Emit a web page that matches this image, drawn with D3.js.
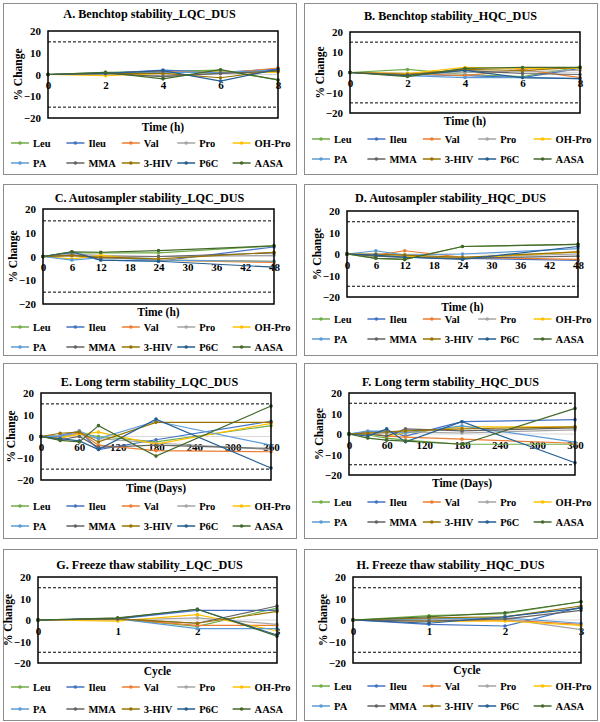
<!DOCTYPE html>
<html>
<head>
<meta charset="utf-8">
<script src="https://cdn.jsdelivr.net/npm/d3@7"></script>
<style>
body { margin: 0; background: #fff; }
svg { display: block; font-family: "Liberation Serif", "Times New Roman", serif; font-weight: bold; }
</style>
</head>
<body>
<div id="chart-area"></div>
<script>
// series and axes
var seriesNames = ["Leu", "Ileu", "Val", "Pro", "OH-Pro", "PA", "MMA", "3-HIV", "P6C", "AASA"];
var seriesColors = ["#70AD47", "#4472C4", "#ED7D31", "#A5A5A5", "#FFC000", "#5B9BD5", "#636363", "#997300", "#255E91", "#43682B"];

var benchTimes = [0, 2, 4, 6, 8];
var autoTimes = [0, 6, 12, 24, 48];
var longTimes = [0, 30, 60, 90, 180, 360];
var ftCycles = [0, 1, 2, 3];

var benchTicks = [0, 2, 4, 6, 8];
var autoTicks = [0, 6, 12, 18, 24, 30, 36, 42, 48];
var longTicks = [0, 60, 120, 180, 240, 300, 360];
var ftTicks = [0, 1, 2, 3];
var yTicks = [-20, -10, 0, 10, 20];
var limitLines = [15, -15];

// % change, one row per series (Leu ... AASA)
var benchLQC = [
    [0, 1, 1.5, 2, -2.5],
    [0, 0.5, 2, 1, 2.5],
    [0, 0.5, 1.5, 0.5, 3],
    [0, 0.3, -0.5, 0.5, 1.5],
    [0, -0.5, 0.5, 1.5, 1],
    [0, 0.8, 1, 1, 2],
    [0, 0.5, -1, 0.5, 1.5],
    [0, 0.5, 0.5, -1.5, 2],
    [0, 0.5, 1.8, -3, 2.5],
    [0, 1, -2, 2.2, -2.5]
];
var benchHQC = [
    [0, 1.5, -1, -2, 2.7],
    [0, -1, -1.5, -2.5, 2],
    [0, -0.5, -1.5, 1.5, -2.5],
    [0, -1, 0, 0.5, 1],
    [0, -0.5, 2.5, 2, 2],
    [0, -1.5, -2.5, -2.5, -3],
    [0, -1, 1, -0.5, -1],
    [0, -1, 1.5, 1, 2.5],
    [0, -1.5, 1, -2.5, -3],
    [0, -2, 2, 2.5, 2.5]
];
var autoLQC = [
    [0, 1.5, 1.5, 1.5, 4.5],
    [0, 1.5, -1.5, -2, 4],
    [0, 0.5, 0, -1.5, -2.5],
    [0, 1, 0.5, 0, 0.5],
    [0, -1, 0.5, -1.5, -2],
    [0, -1.5, -0.5, -1.5, -2],
    [0, 0.5, -0.5, 0, 1.5],
    [0, 0.5, -0.5, -1, 1.8],
    [0, 2, -1.5, -2, -4.5],
    [0, 2, 1.8, 2.5, 4.5]
];
var autoHQC = [
    [0, -2, -2.5, 3.5, 4.5],
    [0, -1, -1.5, -2, -3],
    [0, -0.5, 1.5, -1.5, -2.5],
    [0, -0.5, -1, -1.5, 0],
    [0, -1, -1, -2, 1],
    [0, 1.5, -0.5, 0, 2.5],
    [0, -1, -1.5, -2, -1],
    [0, 0, -0.5, -1.5, 1],
    [0, -0.5, -1.5, -2.5, 3.5],
    [0, -2, -2.5, 3.5, 4.5]
];
var longLQC = [
    [0, -0.5, 1.5, 0, -2.5, 5],
    [0, 0.5, 2.5, -6, -1.5, 7],
    [0, -1, 2, -4, -6.5, -7],
    [0, 0.5, 1, -1, -3, -6],
    [0, -0.5, 1, 2, -3.5, 6],
    [0, 0, 2.5, -1, 7, -4],
    [0, -1.5, 0, -5, -4, -5.5],
    [0, 1.5, 2, -2.5, 6.5, 6.5],
    [0, -1, -2, -6, 8, -14.5],
    [0, -1.8, -2.5, 5, -9, 14]
];
var longHQC = [
    [0, -0.5, -2, -3, -5, -5],
    [0, 1, 1.5, -1, 6, 7],
    [0, 0.5, -1, -1.5, -2.5, -4.5],
    [0, 0, 0.5, 1, 0.5, 2],
    [0, 0, -1, 0.5, 3.5, 3.5],
    [0, 1.5, 1, 0.5, 4, -4],
    [0, 0, -1, 2.5, 1.5, 3],
    [0, 0.5, 1, 1.5, 2.5, 3.5],
    [0, -1, 2.5, -3.8, 6, -14],
    [0, -2, -3, -3.5, -5, 12.5]
];
var ftLQC = [
    [0, 0.5, -3, 5.5],
    [0, 0.5, 4.5, 4.5],
    [0, 0.5, -2.5, -2.5],
    [0, 0, 1, -2],
    [0, -0.5, 2.5, -5],
    [0, 0.5, -4, -4],
    [0, 0.5, -1.5, 6.5],
    [0, 0.5, -1.5, 4],
    [0, 0.8, 5, -7],
    [0, 1, 5, -7.5]
];
var ftHQC = [
    [0, 2, 3, 8.5],
    [0, -2, -2.8, 6],
    [0, -0.5, 0, -2],
    [0, 0.5, 0.5, -4.5],
    [0, -0.5, -0.5, -2.5],
    [0, 0.5, 1, -1.5],
    [0, -0.5, 0.5, 4.5],
    [0, 1, 1.5, 6.5],
    [0, -1.5, 1.5, 5.5],
    [0, 1.5, 3.4, 8.5]
];

var svg = d3.select("#chart-area")
    .append("svg")
    .attr("width", 600)
    .attr("height", 722);

// layout: frame [x, y, w, h], plot [left, top, right, bottom]
var panels = [
    { title: "A. Benchtop stability_LQC_DUS", xLabel: "Time (h)", times: benchTimes, ticks: benchTicks, values: benchLQC,
      frame: [3, 3, 293, 171], plot: [48, 31, 278, 118], titleY: 14, xLabelY: 127, legendY: [143, 163] },
    { title: "B. Benchtop stability_HQC_DUS", xLabel: "Time (h)", times: benchTimes, ticks: benchTicks, values: benchHQC,
      frame: [304, 3, 293, 171], plot: [350, 32, 580, 113], titleY: 16, xLabelY: 121, legendY: [139, 159] },
    { title: "C. Autosampler stability_LQC_DUS", xLabel: "Time (h)", times: autoTimes, ticks: autoTicks, values: autoLQC,
      frame: [3, 184, 293, 171], plot: [43, 209, 274, 304], titleY: 198, xLabelY: 312, legendY: [327, 347] },
    { title: "D. Autosampler stability_HQC_DUS", xLabel: "Time (h)", times: autoTimes, ticks: autoTicks, values: autoHQC,
      frame: [304, 184, 293, 171], plot: [347, 211, 578, 297], titleY: 198, xLabelY: 307, legendY: [319, 339] },
    { title: "E. Long term stability_LQC_DUS", xLabel: "Time (Days)", times: longTimes, ticks: longTicks, values: longLQC,
      frame: [3, 363, 293, 175], plot: [41, 393, 271, 480], titleY: 382, xLabelY: 488, legendY: [506, 526] },
    { title: "F. Long term stability_HQC_DUS", xLabel: "Time (Days)", times: longTimes, ticks: longTicks, values: longHQC,
      frame: [304, 363, 293, 175], plot: [349, 393, 575, 475], titleY: 382, xLabelY: 483, legendY: [502, 522] },
    { title: "G. Freeze thaw stability_LQC_DUS", xLabel: "Cycle", times: ftCycles, ticks: ftTicks, values: ftLQC,
      frame: [3, 549, 293, 171], plot: [38, 577, 277, 663], titleY: 565, xLabelY: 671, legendY: [687, 709] },
    { title: "H. Freeze thaw stability_HQC_DUS", xLabel: "Cycle", times: ftCycles, ticks: ftTicks, values: ftHQC,
      frame: [304, 549, 293, 171], plot: [353, 577, 581, 663], titleY: 565, xLabelY: 670, legendY: [686, 706] }
];

panels.forEach(drawPanel);

function drawPanel(p) {
    var g = svg.append("g");
    var L = p.plot[0], T = p.plot[1], R = p.plot[2], B = p.plot[3];

    var x = d3.scaleLinear()
        .domain(d3.extent(p.ticks))
        .range([L, R]);

    var y = d3.scaleLinear()
        .domain([-20, 20])
        .range([B, T]);

    // outer frame
    g.append("rect")
        .attr("x", p.frame[0] + 0.5)
        .attr("y", p.frame[1] + 0.5)
        .attr("width", p.frame[2])
        .attr("height", p.frame[3])
        .attr("fill", "#fff")
        .attr("stroke", "#8c8c8c")
        .attr("stroke-width", 1);

    g.append("text")
        .attr("x", p.frame[0] + p.frame[2] / 2)
        .attr("y", p.titleY)
        .attr("dy", "0.35em")
        .attr("text-anchor", "middle")
        .attr("font-size", "12.2px")
        .text(p.title);

    // zero line
    g.append("line")
        .attr("x1", L).attr("x2", R)
        .attr("y1", y(0)).attr("y2", y(0))
        .attr("stroke", "#d9d9d9")
        .attr("stroke-width", 1);

    // acceptance limits
    g.selectAll(".limit")
        .data(limitLines)
        .enter()
        .append("line")
        .attr("class", "limit")
        .attr("x1", L).attr("x2", R)
        .attr("y1", d => y(d)).attr("y2", d => y(d))
        .attr("stroke", "#000")
        .attr("stroke-width", 1)
        .attr("stroke-dasharray", "3,2");

    var yAxis = g.append("g")
        .attr("transform", `translate(${L}, 0)`)
        .call(d3.axisLeft(y).tickValues(yTicks).tickSize(0).tickPadding(7));
    yAxis.select(".domain").remove();
    yAxis.selectAll("text")
        .attr("font-family", "Liberation Serif")
        .attr("font-weight", "bold")
        .attr("font-size", "11px")
        .attr("fill", "#000");

    var xAxis = g.append("g")
        .attr("transform", `translate(0, ${y(0)})`)
        .call(d3.axisBottom(x).tickValues(p.ticks).tickFormat(d3.format("d")).tickSize(0).tickPadding(7));
    xAxis.select(".domain").remove();
    xAxis.selectAll("text")
        .attr("font-family", "Liberation Serif")
        .attr("font-weight", "bold")
        .attr("font-size", "11px")
        .attr("fill", "#000");

    g.append("text")
        .attr("transform", `translate(${L - 30}, ${(T + B) / 2}) rotate(-90)`)
        .attr("dy", "0.35em")
        .attr("text-anchor", "middle")
        .attr("font-size", "11.5px")
        .text("% Change");

    g.append("text")
        .attr("x", (L + R) / 2)
        .attr("y", p.xLabelY)
        .attr("dy", "0.35em")
        .attr("text-anchor", "middle")
        .attr("font-size", "11.5px")
        .text(p.xLabel);

    var line = d3.line()
        .x(d => x(d[0]))
        .y(d => y(d[1]));

    p.values.forEach((vals, i) => {
        var pts = vals.map((v, j) => [p.times[j], v]);
        g.append("path")
            .datum(pts)
            .attr("fill", "none")
            .attr("stroke", seriesColors[i])
            .attr("stroke-width", 1.2)
            .attr("d", line);
        g.selectAll(".pt" + i)
            .data(pts)
            .enter()
            .append("circle")
            .attr("class", "pt" + i)
            .attr("cx", d => x(d[0]))
            .attr("cy", d => y(d[1]))
            .attr("r", 1.8)
            .attr("fill", seriesColors[i]);
    });

    // plot border
    g.append("rect")
        .attr("x", L)
        .attr("y", T)
        .attr("width", R - L)
        .attr("height", B - T)
        .attr("fill", "none")
        .attr("stroke", "#000")
        .attr("stroke-width", 1.5);

    // legend
    var spacing = (p.frame[2] - 16) / 5;
    var items = g.selectAll(".legend-item")
        .data(seriesNames)
        .enter()
        .append("g")
        .attr("class", "legend-item")
        .attr("transform", (d, i) => `translate(${p.frame[0] + 8 + (i % 5) * spacing}, ${p.legendY[Math.floor(i / 5)]})`);

    items.append("line")
        .attr("x1", 0).attr("x2", 18)
        .attr("stroke", (d, i) => seriesColors[i])
        .attr("stroke-width", 1.5);

    items.append("circle")
        .attr("cx", 9)
        .attr("r", 1.8)
        .attr("fill", (d, i) => seriesColors[i]);

    items.append("text")
        .attr("x", 22)
        .attr("dy", "0.35em")
        .attr("font-size", "10.5px")
        .text(d => d);
}
</script>
</body>
</html>
